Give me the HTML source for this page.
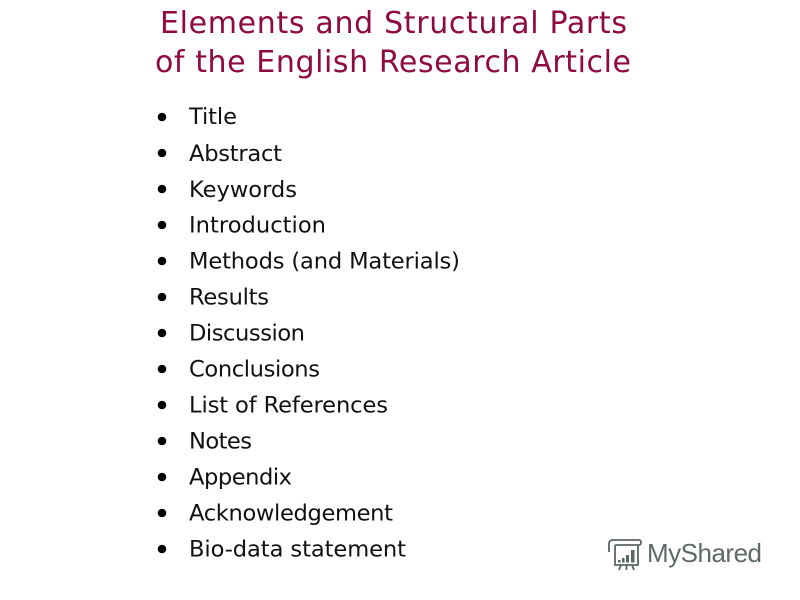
<!DOCTYPE html>
<html><head><meta charset="utf-8"><style>
html,body{margin:0;padding:0;background:#fff;width:800px;height:600px;overflow:hidden}
svg{display:block}
.t{font-family:"DejaVu Sans",sans-serif;font-size:30px;fill:#8f0a3f}
.l{font-family:"DejaVu Sans",sans-serif;font-size:22.6px;fill:#111}
</style></head><body>
<svg width="800" height="600" viewBox="0 0 800 600" xmlns="http://www.w3.org/2000/svg">
<text class="t" x="160" y="33" textLength="467" lengthAdjust="spacing">Elements and Structural Parts</text>
<text class="t" x="155" y="72" textLength="476" lengthAdjust="spacing">of the English Research Article</text>
<g fill="#000">
<circle cx="162" cy="117" r="4.3"/><circle cx="162" cy="153" r="4.3"/><circle cx="162" cy="189" r="4.3"/><circle cx="162" cy="225" r="4.3"/><circle cx="162" cy="261" r="4.3"/><circle cx="162" cy="297" r="4.3"/><circle cx="162" cy="333" r="4.3"/><circle cx="162" cy="369" r="4.3"/><circle cx="162" cy="405" r="4.3"/><circle cx="162" cy="441" r="4.3"/><circle cx="162" cy="477" r="4.3"/><circle cx="162" cy="513" r="4.3"/><circle cx="162" cy="549" r="4.3"/>
</g>
<text class="l" x="189" y="124" textLength="48">Title</text>
<text class="l" x="189" y="161" textLength="93">Abstract</text>
<text class="l" x="189" y="197" textLength="108">Keywords</text>
<text class="l" x="189" y="232.5" textLength="137">Introduction</text>
<text class="l" x="189" y="268.5" textLength="271">Methods (and Materials)</text>
<text class="l" x="189" y="304.5" textLength="80">Results</text>
<text class="l" x="189" y="340.5" textLength="116">Discussion</text>
<text class="l" x="189" y="376.5" textLength="131">Conclusions</text>
<text class="l" x="189" y="412.5" textLength="199">List of References</text>
<text class="l" x="189" y="448.5" textLength="63">Notes</text>
<text class="l" x="189" y="484.5" textLength="103">Appendix</text>
<text class="l" x="189" y="520.5" textLength="204">Acknowledgement</text>
<text class="l" x="189" y="556.5" textLength="217">Bio-data statement</text>
<g fill="none" stroke="#5a6662" stroke-width="1.8">
<path d="M613 540H639q2 0 2 2.5t-2 2.5H615"/>
<path d="M613 540q-4 0-4 4v8"/>
<path d="M615 545v20h23v-20"/>
<path d="M621 565l-2 5M626.500 565v5M632 565l2 5"/>
</g>
<g fill="#5a6662"><rect x="618" y="560" width="2.500" height="2.500"/><rect x="622" y="558" width="2.500" height="4.500"/><rect x="626" y="555" width="3" height="7.500"/><rect x="631" y="550" width="3.500" height="12.500"/></g>
<text x="647" y="562" font-family="'Liberation Sans',sans-serif" font-size="26" fill="#5f6a68" textLength="115" lengthAdjust="spacing">MyShared</text>
</svg>
</body></html>
